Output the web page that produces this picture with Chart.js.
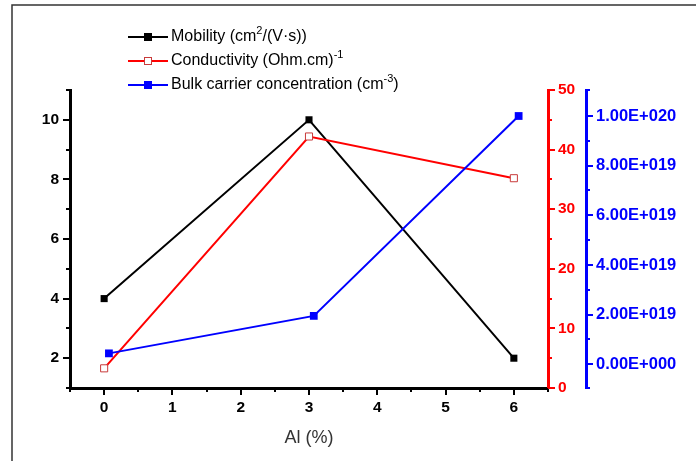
<!DOCTYPE html>
<html><head><meta charset="utf-8">
<script src="https://cdn.jsdelivr.net/npm/chart.js@4/dist/chart.umd.min.js"></script>
<style>html,body{margin:0;padding:0;background:#fff;}#wrap{width:696px;height:461px;position:relative;}</style>
</head><body><div id="wrap"><canvas id="c" width="696" height="461"></canvas></div>
<script>
// ---- data ----
const alPercent = [0, 3, 6];
const alPercentBulk = [0.07, 3.07, 6.07];
const mobility = [4.0, 10.0, 2.0];
const conductivity = [3.3, 42.2, 35.2];
const carrierConc = [4.4e18, 1.95e19, 1.0e20];
const xTickLabels = [0, 1, 2, 3, 4, 5, 6];
const mobilityTickLabels = [2, 4, 6, 8, 10];
const conductivityTickLabels = [0, 10, 20, 30, 40, 50];
const carrierTickLabels = [0, 2e19, 4e19, 6e19, 8e19, 1e20];
const seriesNames = ['Mobility', 'Conductivity', 'Bulk carrier concentration'];

const CARRIER_UNIT = 1e19; // plotting unit of the blue axis
const FONT = '"Liberation Sans", Arial, sans-serif';

function sciLabel(v) {
  if (v === 0) return '0.00E+000';
  const e = Math.floor(Math.log10(Math.abs(v)) + 1e-9);
  const m = v / Math.pow(10, e);
  return m.toFixed(2) + 'E' + (e < 0 ? '-' : '+') + String(Math.abs(e)).padStart(3, '0');
}
function near(v, list, tol) { return list.find(t => Math.abs(t - v) <= tol); }

const legendItems = [
  { parts: [[seriesNames[0] + ' (cm'], ['2', 1], ['/(V\u00B7s))']], color: '#000000', fill: '#000000', edge: '#000000' },
  { parts: [[seriesNames[1] + ' (Ohm.cm)'], ['-1', 1]], color: '#ff0000', fill: '#ffffff', edge: '#c83a3a' },
  { parts: [[seriesNames[2] + ' (cm'], ['-3', 1], [')']], color: '#0000ff', fill: '#0000ff', edge: '#0000ff' }
];

const framePlugin = {
  id: 'frame',
  beforeDraw(chart) {
    const ctx = chart.ctx;
    ctx.save();
    ctx.fillStyle = '#fff';
    ctx.fillRect(0, 0, chart.width, chart.height);
    ctx.strokeStyle = '#333';
    ctx.lineWidth = 1.5;
    ctx.beginPath();
    ctx.moveTo(12, chart.height);
    ctx.lineTo(12, 5);
    ctx.lineTo(chart.width, 5);
    ctx.stroke();
    ctx.restore();
  },
  afterDraw(chart) {
    const ctx = chart.ctx;
    ctx.save();
    // tick marks: long for labelled ticks, short for the others
    const colors = { x: '#000', y: '#000', y1: '#ff0000', y2: '#0000ff' };
    ['x', 'y', 'y1', 'y2'].forEach(id => {
      const s = chart.scales[id];
      ctx.strokeStyle = colors[id];
      ctx.lineWidth = 2;
      s.ticks.forEach(t => {
        const major = t.label !== '' && t.label !== undefined;
        const len = major ? 7 : 4;
        const p = Math.round(s.getPixelForValue(t.value));
        ctx.beginPath();
        if (id === 'x') { ctx.moveTo(p, s.top); ctx.lineTo(p, s.top + len); }
        else if (id === 'y') { ctx.moveTo(s.right, p); ctx.lineTo(s.right - len, p); }
        else { ctx.moveTo(s.left, p); ctx.lineTo(s.left + len, p); }
        ctx.stroke();
      });
    });
    // legend
    const ys = [37, 61, 85];
    legendItems.forEach((it, i) => {
      const y = ys[i];
      ctx.strokeStyle = it.color; ctx.lineWidth = 2;
      ctx.beginPath(); ctx.moveTo(128, y); ctx.lineTo(168, y); ctx.stroke();
      ctx.fillStyle = it.fill; ctx.fillRect(144.5, y - 3.5, 7, 7);
      ctx.strokeStyle = it.edge; ctx.lineWidth = 1; ctx.strokeRect(144.5, y - 3.5, 7, 7);
      let x = 171;
      ctx.fillStyle = '#000';
      ctx.textBaseline = 'middle';
      it.parts.forEach(p => {
        const sup = p[1] === 1;
        ctx.font = (sup ? '11px ' : '16px ') + FONT;
        ctx.fillText(p[0], x, sup ? y - 6 : y);
        x += ctx.measureText(p[0]).width;
      });
    });
    ctx.restore();
  }
};

const tickFont = { family: FONT, size: 15.5, weight: 'bold' };
const blueTickFont = { family: FONT, size: 16.5, weight: 'bold' };
const noGrid = { drawOnChartArea: false, drawTicks: false };

new Chart(document.getElementById('c'), {
  type: 'line',
  data: {
    datasets: [
      { label: seriesNames[0], data: alPercent.map((x, i) => ({ x, y: mobility[i] })), yAxisID: 'y',
        borderColor: '#000', backgroundColor: '#000', borderWidth: 2, pointStyle: 'rect', pointRadius: 5,
        pointBorderWidth: 0, order: 3 },
      { label: seriesNames[1], data: alPercent.map((x, i) => ({ x, y: conductivity[i] })), yAxisID: 'y1',
        borderColor: '#ff0000', backgroundColor: '#ffffff', pointBackgroundColor: '#ffffff', pointBorderColor: '#c83a3a',
        borderWidth: 2, pointBorderWidth: 1, pointStyle: 'rect', pointRadius: 5, order: 2 },
      { label: seriesNames[2], data: alPercentBulk.map((x, i) => ({ x, y: carrierConc[i] / CARRIER_UNIT })), yAxisID: 'y2',
        borderColor: '#0000ff', backgroundColor: '#0000ff', borderWidth: 2, pointStyle: 'rect', pointRadius: 5.5,
        pointBorderWidth: 0, order: 1 }
    ]
  },
  options: {
    responsive: false,
    devicePixelRatio: 1,
    animation: false,
    layout: { padding: { top: 90, left: 0, right: 0, bottom: 0 } },
    plugins: { legend: { display: false }, tooltip: { enabled: false } },
    elements: { line: { tension: 0 } },
    scales: {
      x: {
        type: 'linear', min: -0.5, max: 6.5,
        afterFit(s) { s.height = 73; },
        ticks: { stepSize: 0.5, autoSkip: false, maxRotation: 0, font: tickFont, color: '#000', padding: 10,
          callback: v => { const t = near(v, xTickLabels, 1e-6); return t === undefined ? '' : String(t); } },
        grid: noGrid,
        border: { color: '#000', width: 3 },
        title: { display: true, text: 'Al (%)', font: { family: FONT, size: 18 }, color: '#333', padding: { top: 0, bottom: 12 } }
      },
      y: {
        position: 'left', min: 1, max: 11,
        afterFit(s) { s.width = 70; },
        ticks: { stepSize: 1, autoSkip: false, font: tickFont, color: '#000', padding: 11,
          callback: v => { const t = near(v, mobilityTickLabels, 1e-6); return t === undefined ? '' : String(t); } },
        grid: noGrid,
        border: { color: '#000', width: 3 }
      },
      y1: {
        position: 'right', min: 0, max: 50,
        afterFit(s) { s.width = 38; },
        ticks: { stepSize: 5, autoSkip: false, font: tickFont, color: '#ff0000', padding: 10,
          callback: v => { const t = near(v, conductivityTickLabels, 1e-6); return t === undefined ? '' : String(t); } },
        grid: noGrid,
        border: { color: '#ff0000', width: 3 }
      },
      y2: {
        position: 'right', min: -0.955, max: 11.047,
        afterFit(s) { s.width = 110; },
        ticks: { stepSize: 1, autoSkip: false, font: blueTickFont, color: '#0000ff', padding: 10,
          callback: v => { const t = near(v * CARRIER_UNIT, carrierTickLabels, 1e15); return t === undefined ? '' : sciLabel(t); } },
        grid: noGrid,
        border: { color: '#0000ff', width: 3 }
      }
    }
  },
  plugins: [framePlugin]
});
</script></body></html>
